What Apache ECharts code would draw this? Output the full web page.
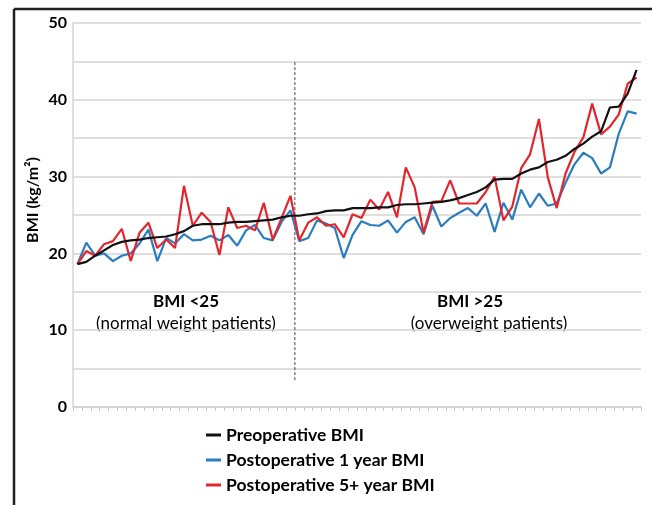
<!DOCTYPE html>
<html>
<head>
<meta charset="utf-8">
<script src="https://cdn.jsdelivr.net/npm/echarts@6/dist/echarts.min.js"></script>
<style>
  html, body { margin: 0; padding: 0; background: #fff; }
  #chart { width: 652px; height: 505px; }
</style>
</head>
<body>
<div id="chart"></div>
<script>
// patients, sorted by preoperative BMI
var patients = [];
for (var p = 1; p <= 64; p++) patients.push(p);

var preBMI = [18.6, 18.9, 19.7, 20.4, 21.1, 21.5, 21.7, 21.8, 22.0, 22.1, 22.2, 22.5, 22.9, 23.6, 23.8, 23.8,
  23.8, 24.0, 24.1, 24.1, 24.2, 24.3, 24.4, 24.7, 24.9, 24.9, 25.1, 25.2, 25.5, 25.6, 25.6, 25.9,
  25.9, 25.9, 26.0, 26.0, 26.3, 26.4, 26.4, 26.5, 26.6, 26.7, 26.9, 27.2, 27.6, 28.0, 28.6, 29.6,
  29.7, 29.7, 30.4, 30.9, 31.2, 31.9, 32.2, 32.7, 33.6, 34.3, 35.2, 35.9, 39.0, 39.1, 40.8, 43.9];

var post1yBMI = [18.6, 21.4, 19.7, 20.0, 19.0, 19.7, 20.0, 21.3, 23.1, 19.0, 22.0, 21.3, 22.5, 21.7, 21.8, 22.3,
  21.7, 22.4, 21.0, 23.0, 23.7, 22.0, 21.7, 24.1, 25.6, 21.6, 22.0, 24.3, 23.9, 23.3, 19.4, 22.4,
  24.2, 23.7, 23.6, 24.3, 22.7, 24.1, 24.7, 22.5, 26.2, 23.5, 24.6, 25.3, 25.9, 24.9, 26.5, 22.8,
  26.6, 24.4, 28.3, 26.0, 27.8, 26.2, 26.5, 29.2, 31.6, 33.1, 32.4, 30.4, 31.2, 35.6, 38.5, 38.2];

var post5yBMI = [18.6, 20.3, 19.7, 21.2, 21.6, 23.2, 19.0, 22.7, 24.0, 20.7, 21.8, 20.7, 28.8, 23.6, 25.3, 24.1,
  19.8, 26.0, 23.3, 23.6, 23.0, 26.6, 21.8, 24.6, 27.5, 21.7, 24.0, 24.7, 23.6, 23.8, 22.1, 25.1,
  24.6, 27.0, 25.7, 28.0, 24.7, 31.2, 28.6, 22.7, 26.7, 26.8, 29.5, 26.5, 26.5, 26.5, 28.0, 30.0,
  24.3, 26.1, 31.1, 32.9, 37.5, 29.9, 25.9, 30.4, 33.2, 35.1, 39.5, 35.5, 36.5, 38.1, 42.1, 42.9];

// boundary between the two groups (after patient 25), and its vertical extent
var dividerAt = 25;
var dividerRange = [3.5, 45];

var seriesNames = ['Preoperative BMI', 'Postoperative 1 year BMI', 'Postoperative 5+ year BMI'];
var seriesColors = ['#111111', '#2a7dc0', '#e3262d'];

var font = 'Lato, "Open Sans", sans-serif';

var myChart = echarts.init(document.getElementById('chart'));

function lineSeries(name, data, color) {
  return {
    name: name,
    type: 'line',
    data: data,
    symbol: 'none',
    silent: true,
    lineStyle: { color: color, width: 2.2 },
    itemStyle: { color: color }
  };
}

function label(text, x, y, bold) {
  return {
    type: 'text', x: x, y: y,
    style: {
      text: text, fontFamily: font, fontSize: 17, fontWeight: bold ? 'bold' : 'normal',
      fill: '#000', align: 'center', verticalAlign: 'middle'
    }
  };
}

var option = {
  backgroundColor: '#fff',
  animation: false,
  grid: { left: 73, right: 11, top: 23, bottom: 98 },
  xAxis: [{
    type: 'category',
    data: patients,
    boundaryGap: true,
    axisLine: { lineStyle: { color: '#d4d4d4', width: 1.5 } },
    axisTick: { show: true, interval: 0, length: 4, lineStyle: { color: '#c8c8c8' } },
    axisLabel: { show: false },
    splitLine: { show: false }
  }, {
    type: 'value',
    min: 0,
    max: 64,
    show: false
  }],
  yAxis: {
    type: 'value',
    min: 0,
    max: 50,
    interval: 5,
    axisLine: { show: true, lineStyle: { color: '#d4d4d4', width: 1.5 } },
    axisTick: { show: false },
    axisLabel: {
      fontFamily: font, fontWeight: 'bold', fontSize: 16, color: '#000', margin: 6,
      formatter: function (v) { return v % 10 === 0 ? String(v) : ''; }
    },
    splitLine: { lineStyle: { color: '#d4d4d4', width: 1.5 } }
  },
  legend: {
    data: seriesNames,
    orient: 'vertical',
    left: 201,
    top: 421,
    icon: 'rect',
    itemWidth: 15,
    itemHeight: 3,
    itemGap: 7,
    textStyle: { fontFamily: font, fontWeight: 'bold', fontSize: 17.5, color: '#000', lineHeight: 18 }
  },
  graphic: [
    { type: 'line', shape: { x1: 14, y1: 9, x2: 652, y2: 9 }, style: { stroke: '#231f20', lineWidth: 2.5 } },
    { type: 'line', shape: { x1: 14, y1: 9, x2: 14, y2: 505 }, style: { stroke: '#231f20', lineWidth: 2.5 } },
    { type: 'text', x: 33, y: 200, rotation: Math.PI / 2,
      style: { text: 'BMI (kg/m\u00b2)', fontFamily: font, fontSize: 16, fontWeight: 'bold',
        fill: '#000', align: 'center', verticalAlign: 'middle' } },
    label('BMI <25', 186, 302, true),
    label('(normal weight patients)', 186, 324, false),
    label('BMI >25', 470, 302, true),
    label('(overweight patients)', 489, 324, false)
  ],
  series: [
    {
      name: 'divider',
      type: 'line',
      xAxisIndex: 1,
      data: [[dividerAt, dividerRange[0]], [dividerAt, dividerRange[1]]],
      symbol: 'none',
      silent: true,
      lineStyle: { color: '#444', width: 1, type: [3, 2] }
    },
    lineSeries(seriesNames[1], post1yBMI, seriesColors[1]),
    lineSeries(seriesNames[2], post5yBMI, seriesColors[2]),
    lineSeries(seriesNames[0], preBMI, seriesColors[0])
  ]
};

myChart.setOption(option);
window.addEventListener('resize', function () {
  myChart.resize();
});
</script>
</body>
</html>
